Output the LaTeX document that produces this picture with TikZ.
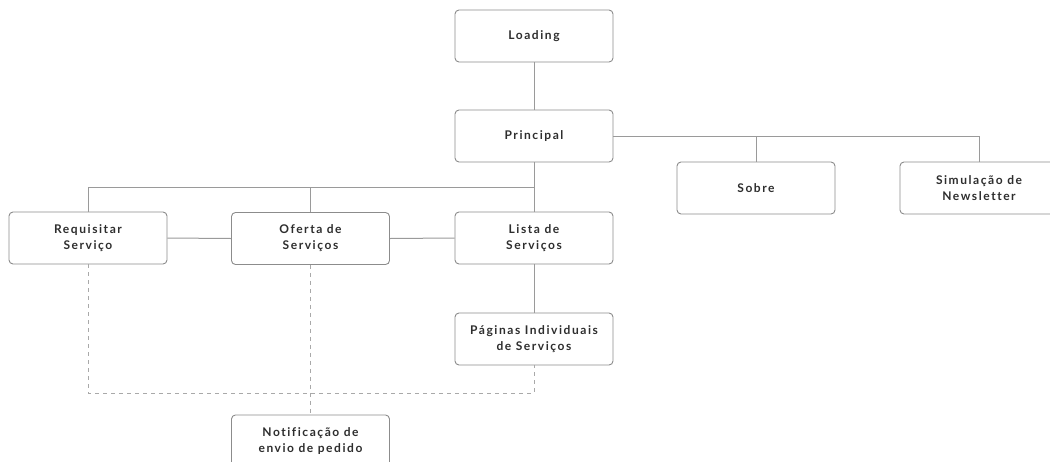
\documentclass[tikz,border=0pt]{standalone}
\usepackage{fontspec}
\setmainfont{Lato}[LetterSpace=13,Ligatures={NoCommon}]
\begin{document}
\begin{tikzpicture}[x=1pt,y=1pt,
  linkline/.style={draw=linegray,line width=1pt},
  dashlink/.style={draw=linegray!85,line width=0.9pt,dash pattern=on 4pt off 4pt},
  pagebox/.style={draw=boxgray,line width=0.9pt,rounded corners=4pt,fill=white,
    minimum width=158pt,minimum height=52pt,align=center,text=textdark,
    font=\fontsize{12}{16}\selectfont\bfseries}]
\definecolor{linegray}{HTML}{9A9A9A}
\definecolor{boxgray}{HTML}{8C8C8C}
\definecolor{textdark}{HTML}{2E2E2E}
\useasboundingbox (0,0) rectangle (1050,-461);
\clip (0,0) rectangle (1050,-461);
\fill[white] (0,0) rectangle (1050,-461);

% guide coordinates for the bus lines
\coordinate (bus) at (0,-187);
\coordinate (dl) at (0,-393);

% pages
\node[pagebox] (load)  at (534,-36)    {Loading};
\node[pagebox] (princ) at (534,-136)   {Principal};
\node[pagebox] (sobre) at (756,-188)   {Sobre};
\node[pagebox] (news)  at (979,-188)   {Simulação de\\Newsletter};
\node[pagebox] (req)   at (88,-238)    {Requisitar\\Serviço};
\node[pagebox] (ofer)  at (310.5,-238.5) {Oferta de\\Serviços};
\node[pagebox] (lista) at (534,-238)   {Lista de\\Serviços};
\node[pagebox] (pag)   at (534,-339)   {Páginas Individuais\\de Serviços};
\node[pagebox] (notif) at (310.5,-441) {Notificação de\\envio de pedido};

% hierarchy links
\draw[linkline] (load) -- (princ);
\draw[linkline] (princ.east) -| (news.north);
\draw[linkline] (sobre.north) -- (sobre.north |- princ.east);
\draw[linkline] (princ.south) -- (lista.north);
\draw[linkline] (req.north) -- (req.north |- bus) -- (lista.north |- bus);
\draw[linkline] (ofer.north) -- (ofer.north |- bus);
\draw[linkline] (req.east) -- (ofer.west);
\draw[linkline] (ofer.east) -- (lista.west);
\draw[linkline] (lista.south) -- (pag.north);

% dashed order flow
\draw[dashlink] (req.south) -- (req.south |- dl) -- (pag.south |- dl) -- (pag.south);
\draw[dashlink] (ofer.south) -- (notif.north);
\end{tikzpicture}
\end{document}
